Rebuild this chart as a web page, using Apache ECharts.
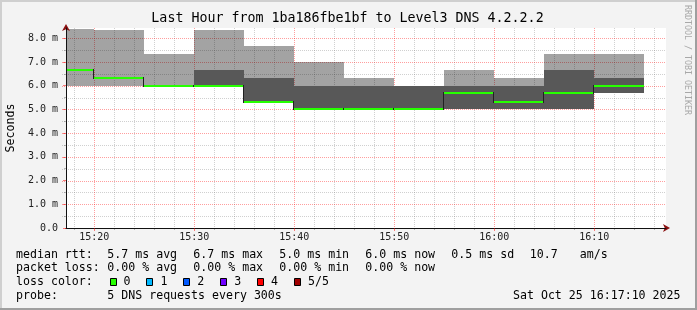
<!DOCTYPE html>
<html><head><meta charset="utf-8">
<script src="https://cdn.jsdelivr.net/npm/echarts@6/dist/echarts.min.js"></script>
<style>html,body{margin:0;padding:0;background:#f3f3f3}#c{width:697px;height:310px}</style>
</head><body><div id="c"></div>
<script>
// ---- data ----
const windowStart = '15:17:10';
const windowEnd   = '16:17:10';
const stepMinutes = 5;
const segmentStarts = ['15:15','15:20','15:25','15:30','15:35','15:40','15:45','15:50','15:55','16:00','16:05','16:10'];
const pingLow   = [6.00,6.00,6.00,6.00,5.33,5.00,5.00,5.00,5.00,5.00,5.00,5.67];
const pingLowQ  = [6.67,6.33,6.00,6.00,5.33,5.00,5.00,5.00,5.00,5.00,5.00,5.67];
const medianRtt = [6.67,6.33,6.00,6.00,5.33,5.00,5.00,5.00,5.67,5.33,5.67,6.00];
const pingHighQ = [6.67,6.33,6.00,6.67,6.33,6.00,6.00,6.00,6.00,6.00,6.67,6.33];
const pingHigh  = [8.37,8.33,7.33,8.33,7.67,7.00,6.33,6.00,6.67,6.33,7.33,7.33];

const xMajorTicks = ['15:20','15:30','15:40','15:50','16:00','16:10'];
const xMinorTicks = ['15:18','15:22','15:24','15:26','15:28','15:32','15:34','15:36','15:38','15:42','15:44','15:46','15:48',
                     '15:52','15:54','15:56','15:58','16:02','16:04','16:06','16:08','16:12','16:14','16:16'];
const yMajorTicks = [0,1,2,3,4,5,6,7,8];
const yMinorTicks = [0.5,1.5,2.5,3.5,4.5,5.5,6.5,7.5];
const yMax = 8.43;

const titleText = 'Last Hour from 1ba186fbe1bf to Level3 DNS 4.2.2.2';
const yAxisTitle = 'Seconds';
const rttStats  = ['5.7 ms avg','6.7 ms max','5.0 ms min','6.0 ms now','0.5 ms sd','10.7','am/s'];
const lossStats = ['0.00 % avg','0.00 % max','0.00 % min','0.00 % now'];
const lossLabels = ['0','1','2','3','4','5/5'];
const lossColors = ['#26ff00','#00b8ff','#0059ff','#7000ff','#ff0000','#a00000'];
const probeText = '5 DNS requests every 300s';
const dateText  = 'Sat Oct 25 16:17:10 2025';
const watermark = 'RRDTOOL / TOBI OETIKER';

// ---- helpers ----
function hm(s){ const p = s.split(':').map(Number); return p[0]*60 + p[1] + (p[2]||0)/60; }
function fmtHM(v){ const m = Math.round(v); const h = Math.floor(m/60), mm = m%60; return h + ':' + (mm<10?'0':'') + mm; }
const MONO = '"DejaVu Sans Mono", monospace';
const LIGHT = 'rgba(0,0,0,0.36)';
const DARK  = '#585858';

const smokeData = segmentStarts.map((s,i)=>[hm(s), hm(s)+stepMinutes, pingLow[i], pingLowQ[i], medianRtt[i], pingHighQ[i], pingHigh[i],
  i>0 ? medianRtt[i-1] : NaN]);

const gridData = [];
xMinorTicks.forEach(t=>gridData.push([0, hm(t), 0]));
yMinorTicks.forEach(v=>gridData.push([1, v, 0]));
xMajorTicks.forEach(t=>gridData.push([0, hm(t), 1]));
yMajorTicks.filter(v=>v>0).forEach(v=>gridData.push([1, v, 1]));

function csRect(params){ const c = params.coordSys; return {x:c.x, y:c.y, width:c.width, height:c.height}; }

function renderGrid(params, api){
  const r = csRect(params);
  const vertical = api.value(0) === 0, v = api.value(1), major = api.value(2) === 1;
  const style = {stroke: major ? 'rgba(255,0,0,0.38)' : 'rgba(120,120,120,0.35)', lineWidth:1, lineDash:[1,1]};
  if (vertical){
    const x = Math.round(api.coord([v, 0])[0]) + 0.5;
    return {type:'line', shape:{x1:x, y1:r.y, x2:x, y2:r.y + r.height}, style};
  }
  const y = Math.round(api.coord([0, v])[1]) + 0.5;
  return {type:'line', shape:{x1:r.x - 4, y1:y, x2:r.x + r.width, y2:y}, style};
}

function renderSmoke(params, api){
  const r = csRect(params);
  const x0 = api.value(0), x1 = api.value(1);
  const p = [api.value(2), api.value(3), api.value(4), api.value(5), api.value(6)];
  const bands = [[0,1,LIGHT],[1,3,DARK],[3,4,LIGHT]];
  const children = [];
  bands.forEach(([a,b,color])=>{
    if (!(p[b] > p[a])) return;
    const tl = api.coord([x0, p[b]]), br = api.coord([x1, p[a]]);
    const X0 = Math.round(tl[0]), X1 = Math.round(br[0]), Y0 = Math.round(tl[1]), Y1 = Math.round(br[1]);
    const shape = echarts.graphic.clipRectByRect({x:X0, y:Y0, width:X1-X0, height:Y1-Y0}, r);
    if (shape) children.push({type:'rect', shape, style:{fill:color}});
  });
  return {type:'group', children};
}

function renderMedian(params, api){
  const r = csRect(params);
  const x0 = api.value(0), x1 = api.value(1), m = api.value(4), prev = api.value(7);
  const a = api.coord([x0, m]), b = api.coord([x1, m]);
  const X0 = Math.max(Math.round(a[0]), r.x), X1 = Math.round(b[0]);
  const Y = Math.round(a[1]);
  const children = [{type:'rect', shape:{x:X0, y:Y-1, width:X1-X0, height:2}, style:{fill:'#26ff00'}}];
  if (!isNaN(prev)){
    const py = Math.round(api.coord([x0, prev])[1]);
    const xc = Math.round(a[0]) - 1;
    children.push({type:'rect', shape:{x:xc, y:Math.min(py,Y)-1, width:1, height:Math.abs(py-Y)+2}, style:{fill:'#202020'}});
  }
  return {type:'group', children};
}

const xMin = hm(windowStart), xMax = hm(windowEnd);
const axisLabelStyle = {fontFamily: MONO, fontSize: 10, color: '#222'};

// ---- text graphics ----
const graphics = [];
graphics.push({type:'rect', shape:{x:0,y:0,width:697,height:2}, style:{fill:'#cfcfcf'}, silent:true});
graphics.push({type:'rect', shape:{x:0,y:0,width:2,height:310}, style:{fill:'#cfcfcf'}, silent:true});
graphics.push({type:'rect', shape:{x:0,y:308,width:697,height:2}, style:{fill:'#9f9f9f'}, silent:true});
graphics.push({type:'rect', shape:{x:695,y:0,width:2,height:310}, style:{fill:'#9f9f9f'}, silent:true});
function txt(x, y, text, font, extra){
  graphics.push(Object.assign({type:'text', x, y, silent:true,
    style:{text, font, fill:'#000', align:'left', verticalAlign:'middle'}}, extra||{}));
}
const LF = '11.6px ' + MONO;
txt(347.5, 19, titleText, '13.3px ' + MONO);
graphics[graphics.length-1].style.align = 'center';
txt(10.5, 128, yAxisTitle, LF, {rotation: Math.PI/2});
graphics[graphics.length-1].style.align = 'center';
txt(687.5, 60, watermark, '8.3px ' + MONO, {rotation: -Math.PI/2});
graphics[graphics.length-1].style.align = 'center';
graphics[graphics.length-1].style.fill = '#a8a8a8';

const rowY = [254.5, 268, 282, 296];
const colX = [107.3, 193.3, 279.3, 365.3, 451.3, 529.7, 579.7];
txt(16, rowY[0], 'median rtt:', LF);
rttStats.forEach((s,i)=>txt(colX[i], rowY[0], s, LF));
txt(16, rowY[1], 'packet loss:', LF);
lossStats.forEach((s,i)=>txt(colX[i], rowY[1], s, LF));
txt(16, rowY[2], 'loss color:', LF);
lossLabels.forEach((s,i)=>{
  const bx = 109.5 + 36.9*i;
  graphics.push({type:'rect', silent:true, shape:{x:Math.round(bx)+0.5, y:278.5, width:6, height:7},
    style:{fill:lossColors[i], stroke:'#000', lineWidth:1}});
  txt(bx + 14, rowY[2], s, LF);
});
txt(16, rowY[3], 'probe:', LF);
txt(107.3, rowY[3], probeText, LF);
txt(680.5, rowY[3], dateText, LF);
graphics[graphics.length-1].style.align = 'right';

const option = {
  animation: false,
  backgroundColor: '#f3f3f3',
  grid: {left:66, top:28, width:600, height:200, show:true, backgroundColor:'#ffffff', borderWidth:0},
  xAxis: [
    {type:'value', min:xMin, max:xMax, position:'bottom', z:3,
     axisLine:{show:true, lineStyle:{color:'#111', width:1}},
     axisTick:{show:true, customValues:xMajorTicks.map(hm), length:3, lineStyle:{color:'rgba(255,0,0,0.5)'}},
     axisLabel:{show:true, customValues:xMajorTicks.map(hm), formatter:fmtHM, margin:4, ...axisLabelStyle},
     splitLine:{show:false}},
    {type:'value', min:xMin, max:xMax, position:'bottom', z:2,
     axisLine:{show:true, symbol:['none','arrow'], symbolSize:[6,7], symbolOffset:[0,4], lineStyle:{color:'#8b1010', width:1}},
     axisTick:{show:true, customValues:xMinorTicks.map(hm), length:2, lineStyle:{color:'rgba(120,120,120,0.5)'}},
     axisLabel:{show:false}, splitLine:{show:false}}
  ],
  yAxis: [
    {type:'value', min:0, max:yMax, position:'left', z:3,
     axisLine:{show:true, lineStyle:{color:'#111', width:1}},
     axisTick:{show:true, customValues:yMajorTicks, length:3, lineStyle:{color:'rgba(255,0,0,0.5)'}},
     axisLabel:{show:true, customValues:yMajorTicks, margin:8,
       formatter:v=> v===0 ? '0.0' : v.toFixed(1)+' m', ...axisLabelStyle},
     splitLine:{show:false}},
    {type:'value', min:0, max:yMax, position:'left', z:2,
     axisLine:{show:true, symbol:['none','arrow'], symbolSize:[6,7], symbolOffset:[0,4], lineStyle:{color:'#8b1010', width:1}},
     axisTick:{show:true, customValues:yMinorTicks, length:2, lineStyle:{color:'rgba(120,120,120,0.5)'}},
     axisLabel:{show:false}, splitLine:{show:false}}
  ],
  series: [
    {type:'custom', name:'grid', z:1, silent:true, xAxisIndex:0, yAxisIndex:0, renderItem:renderGrid, data:gridData},
    {type:'custom', name:'smoke', z:2, silent:true, xAxisIndex:0, yAxisIndex:0, renderItem:renderSmoke, data:smokeData},
    {type:'custom', name:'median rtt', z:3, silent:true, xAxisIndex:0, yAxisIndex:0, renderItem:renderMedian, data:smokeData}
  ],
  graphic: graphics
};
echarts.init(document.getElementById('c'), null, {renderer:'canvas'}).setOption(option);
</script></body></html>
